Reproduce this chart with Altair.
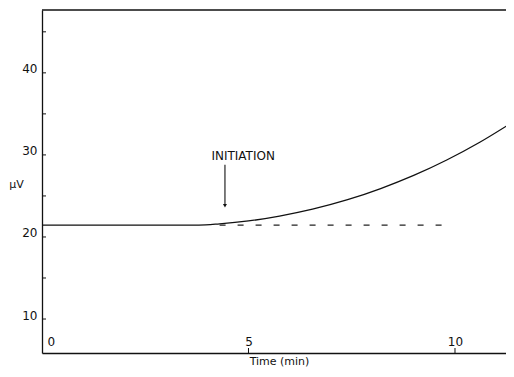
import altair as alt
import pandas as pd

# curve data (time in min, signal in µV)
time_min = [0, 1, 2, 3, 3.8, 4.3, 5.0, 5.75, 6.55, 7.4, 8.2, 9.0, 9.8, 10.6, 11.24]
signal_uv = [21.45, 21.45, 21.45, 21.45, 21.45, 21.6, 21.95, 22.55, 23.39, 24.54, 25.9, 27.5, 29.38, 31.54, 33.5]

# baseline extrapolation (dashed)
base_t = [4.3, 9.8]
base_v = [21.45, 21.45]

# initiation arrow
arrow_t = [4.43]
arrow_top = [28.8]
arrow_bottom = [23.8]
label_t = [4.87]
label_v = [29.9]
label_txt = ["INITIATION"]

y_major = [10, 20, 30, 40]
y_ticks = [10, 15, 20, 25, 30, 35, 40, 45]
x_labels = [0, 5, 10]
x_ticks = [5, 10]

X_DOM = [0, 11.235]
Y_DOM = [5.86, 47.66]
FONT = "DejaVu Sans"
INK = "#111"

xs = alt.Scale(domain=X_DOM, nice=False, zero=False)
ys = alt.Scale(domain=Y_DOM, nice=False, zero=False)

curve_df = pd.DataFrame({"t": time_min, "v": signal_uv})
base_df = pd.DataFrame({"t": base_t, "v": base_v})
arrow_df = pd.DataFrame({"t": arrow_t, "v1": arrow_top, "v2": arrow_bottom})
label_df = pd.DataFrame({"t": label_t, "v": label_v, "txt": label_txt})
ytick_df = pd.DataFrame({"v": y_ticks})
xtick_df = pd.DataFrame({"t": x_ticks})

curve = alt.Chart(curve_df).mark_line(
    color=INK, strokeWidth=1.3, interpolate="monotone"
).encode(
    x=alt.X("t:Q", scale=xs, axis=alt.Axis(
        title="Time (min)", values=x_labels, ticks=False, domain=True,
        domainColor=INK, domainWidth=1.3, grid=False,
        labelPadding=-17, labelBaseline="top", labelFont=FONT, labelFontSize=12,
        labelColor=INK,
        labelAlign=alt.ExprRef(expr="datum.value == 0 ? 'left' : 'center'"),
        labelOffset=alt.ExprRef(expr="datum.value == 0 ? 5 : 0"),
        labelFlush=False,
        titleFont=FONT, titleFontSize=11, titleFontWeight="normal", titleColor=INK,
        titleX=237, titleY=2, titleBaseline="top", titleAnchor="middle")),
    y=alt.Y("v:Q", scale=ys, axis=alt.Axis(
        title="µV", values=y_major, ticks=False, domain=True,
        domainColor=INK, domainWidth=1.3, grid=False,
        labelPadding=5, labelBaseline="alphabetic", labelFont=FONT, labelFontSize=12,
        labelColor=INK, labelFlush=False,
        titleAngle=0, titleX=-26, titleY=174, titleAlign="center",
        titleBaseline="middle", titleFont=FONT, titleFontSize=11,
        titleFontWeight="normal", titleColor=INK)),
)

top_line = alt.Chart(pd.DataFrame({"v": [Y_DOM[1]]})).mark_rule(
    color=INK, strokeWidth=1.5
).encode(y=alt.Y("v:Q", scale=ys))

baseline = alt.Chart(base_df).mark_line(
    color="#222", strokeWidth=1.2, strokeDash=[6, 12]
).encode(x=alt.X("t:Q", scale=xs), y=alt.Y("v:Q", scale=ys))

arrow = alt.Chart(arrow_df).mark_rule(color=INK, strokeWidth=1.1).encode(
    x=alt.X("t:Q", scale=xs), y=alt.Y("v1:Q", scale=ys), y2="v2:Q"
)
head = alt.Chart(arrow_df).mark_point(
    shape="triangle-down", filled=True, color=INK, size=16, opacity=1
).encode(x=alt.X("t:Q", scale=xs), y=alt.Y("v2:Q", scale=ys))

label = alt.Chart(label_df).mark_text(
    font=FONT, fontSize=12, color=INK, align="center", baseline="middle"
).encode(x=alt.X("t:Q", scale=xs), y=alt.Y("v:Q", scale=ys), text="txt:N")

yticks = alt.Chart(ytick_df).mark_rule(color=INK, strokeWidth=1).encode(
    y=alt.Y("v:Q", scale=ys), x=alt.value(0), x2=alt.value(4)
)
xticks = alt.Chart(xtick_df).mark_rule(color=INK, strokeWidth=1).encode(
    x=alt.X("t:Q", scale=xs), y=alt.value(343), y2=alt.value(338)
)

chart = alt.layer(curve, top_line, baseline, arrow, head, label, yticks, xticks).properties(
    width=464, height=343,
    autosize=alt.AutoSizeParams(type="none"),
    padding={"left": 34, "top": 2, "right": 0, "bottom": 15},
).configure(background="white").configure_view(stroke=None)

chart.save("out.html", embed_options={"renderer": "svg", "actions": False})
